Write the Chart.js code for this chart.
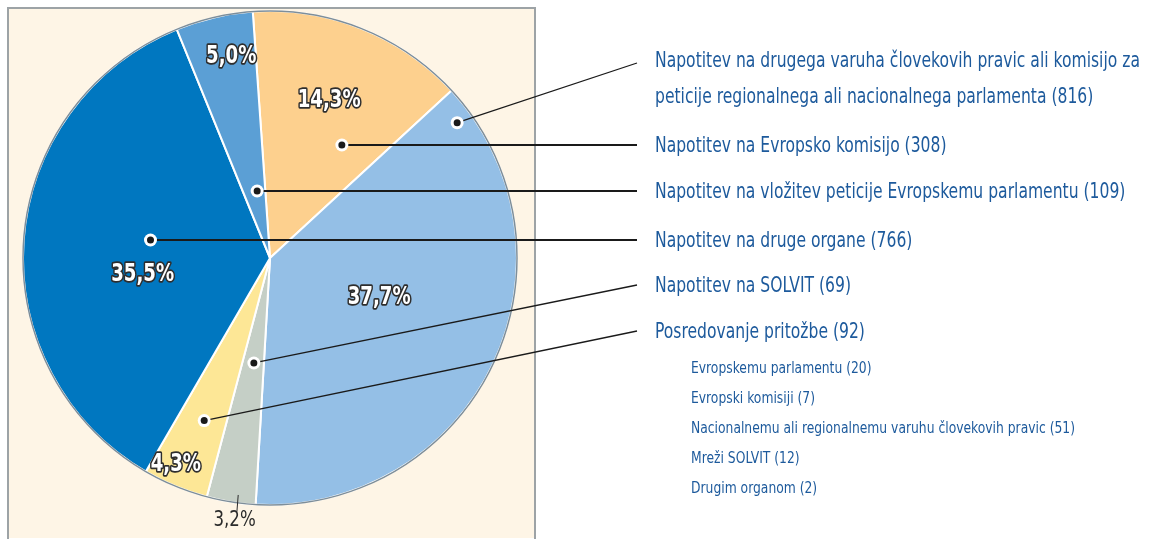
<!DOCTYPE html>
<html lang="sl">
<head>
  <meta charset="UTF-8">
  <title>Napotitve pritožb</title>
  <script src="https://cdn.jsdelivr.net/npm/chart.js"></script>
  <style>
    body { margin: 0; background: #ffffff; }
    #wrap { width: 1167px; height: 539px; position: relative; }
  </style>
</head>
<body>
  <div id="wrap"><canvas id="pie"></canvas></div>

  <script>
    // slices, clockwise from the top
    const categories = [
      "Napotitev na Evropsko komisijo",
      "Napotitev na drugega varuha človekovih pravic ali komisijo za peticije regionalnega ali nacionalnega parlamenta",
      "Napotitev na SOLVIT",
      "Posredovanje pritožbe",
      "Napotitev na druge organe",
      "Napotitev na vložitev peticije Evropskemu parlamentu"
    ];
    const counts = [308, 816, 69, 92, 766, 109];
    const shares = ["14,3%", "37,7%", "3,2%", "4,3%", "35,5%", "5,0%"];
    const colors = ["#fdd08e", "#94bfe6", "#c5cfc6", "#fde796", "#0077c0", "#5b9fd5"];

    // legend text on the right (index into the slices above)
    const legendOrder = [1, 0, 5, 4, 2, 3];
    const legendLines = [
      ["Napotitev na drugega varuha človekovih pravic ali komisijo za", "peticije regionalnega ali nacionalnega parlamenta (816)"],
      ["Napotitev na Evropsko komisijo (308)"],
      ["Napotitev na vložitev peticije Evropskemu parlamentu (109)"],
      ["Napotitev na druge organe (766)"],
      ["Napotitev na SOLVIT (69)"],
      ["Posredovanje pritožbe (92)"]
    ];
    const legendY = [61, 146, 192, 241, 286, 332];
    const subItems = [
      "Evropskemu parlamentu (20)",
      "Evropski komisiji (7)",
      "Nacionalnemu ali regionalnemu varuhu človekovih pravic (51)",
      "Mreži SOLVIT (12)",
      "Drugim organom (2)"
    ];

    // where labels and leader dots sit inside each slice: [angle fraction, radius fraction]
    const labelPos = [[0.48, 0.68], [0.46, 0.47], [0.38, 1.07], [0.63, 0.92], [0.41, 0.52], [0.62, 0.83]];
    const dotPos   = [[0.70, 0.55], [0.05, 0.935], [0.47, 0.43], [0.47, 0.71], [0.54, 0.49], [0.62, 0.275]];

    const FONT = '"DejaVu Sans Condensed", "Liberation Sans", Arial, sans-serif';
    const TEXT_BLUE = "#1d5a9c";

    function at(arc, f, rf) {
      const a = arc.startAngle + f * (arc.endAngle - arc.startAngle);
      return { x: arc.x + Math.cos(a) * arc.outerRadius * rf, y: arc.y + Math.sin(a) * arc.outerRadius * rf };
    }

    // draw text squeezed horizontally (the original face is a condensed one)
    function squeezed(ctx, t, x, y, sx, outline) {
      ctx.save();
      ctx.translate(x, y);
      ctx.scale(sx, 1);
      if (outline) ctx.strokeText(t, 0, 0);
      ctx.fillText(t, 0, 0);
      ctx.restore();
    }

    const decor = {
      id: "decor",
      beforeDraw(chart) {
        const ctx = chart.ctx;
        ctx.save();
        ctx.fillStyle = "#fef5e6";
        ctx.fillRect(8, 8, 527, 530);
        ctx.strokeStyle = "#9da3a6";
        ctx.lineWidth = 2;
        ctx.strokeRect(8, 8, 527, 532);
        ctx.restore();
      },
      afterDatasetsDraw(chart) {
        const ctx = chart.ctx;
        const arcs = chart.getDatasetMeta(0).data;
        const a0 = arcs[0];
        ctx.save();
        ctx.strokeStyle = "#7e8e99";
        ctx.lineWidth = 1.5;
        ctx.beginPath();
        ctx.arc(a0.x, a0.y, a0.outerRadius, 0, Math.PI * 2);
        ctx.stroke();

        // leader lines and dots
        legendOrder.forEach((idx, i) => {
          const p = at(arcs[idx], dotPos[idx][0], dotPos[idx][1]);
          const flat = i >= 1 && i <= 3;
          const py = flat ? legendY[i] - 1 : p.y;
          const endY = i === 0 ? legendY[0] + 2 : legendY[i] - 1;
          ctx.strokeStyle = "#1a1a1a";
          ctx.lineWidth = flat ? 2 : 1.3;
          ctx.beginPath();
          ctx.moveTo(p.x, py);
          ctx.lineTo(637, endY);
          ctx.stroke();
          ctx.fillStyle = "#ffffff";
          ctx.beginPath();
          ctx.arc(p.x, py, 6.5, 0, Math.PI * 2);
          ctx.fill();
          ctx.fillStyle = "#1a1a1a";
          ctx.beginPath();
          ctx.arc(p.x, py, 3.5, 0, Math.PI * 2);
          ctx.fill();
        });

        // percentage labels
        ctx.textAlign = "center";
        ctx.textBaseline = "middle";
        arcs.forEach((arc, idx) => {
          const p = at(arc, labelPos[idx][0], labelPos[idx][1]);
          if (idx === 2) {
            ctx.font = "22px " + FONT;
            ctx.fillStyle = "#2b2b2b";
            squeezed(ctx, shares[idx], p.x, p.y, 0.84, false);
            const t1 = at(arc, 0.38, 0.96), t2 = at(arc, 0.38, 1.0);
            ctx.strokeStyle = "#2b2b2b";
            ctx.lineWidth = 1;
            ctx.beginPath();
            ctx.moveTo(t1.x, t1.y + 2);
            ctx.lineTo(t2.x, t2.y + 9);
            ctx.stroke();
          } else {
            ctx.font = "bold 24px " + FONT;
            ctx.lineJoin = "round";
            ctx.lineWidth = 3.5;
            ctx.strokeStyle = "#2e2e2e";
            ctx.fillStyle = "#ffffff";
            squeezed(ctx, shares[idx], p.x, p.y, 0.84, true);
          }
        });

        // legend text
        ctx.textAlign = "left";
        ctx.fillStyle = TEXT_BLUE;
        ctx.font = "22px " + FONT;
        const sxMain = 485 / ctx.measureText(legendLines[0][0]).width;
        legendLines.forEach((lines, i) => {
          lines.forEach((t, j) => squeezed(ctx, t, 655, legendY[i] + j * 36, sxMain, false));
        });
        ctx.font = "16px " + FONT;
        const sxSub = 384 / ctx.measureText(subItems[2]).width;
        subItems.forEach((t, j) => squeezed(ctx, t, 691, 369 + j * 30, sxSub, false));
        ctx.restore();
      }
    };

    new Chart(document.getElementById("pie"), {
      type: "pie",
      data: {
        labels: categories,
        datasets: [{
          data: counts,
          backgroundColor: colors,
          borderColor: "#ffffff",
          borderWidth: 2
        }]
      },
      options: {
        responsive: true,
        maintainAspectRatio: false,
        animation: false,
        rotation: -4,
        layout: { padding: { left: 22, top: 10, right: 649, bottom: 33 } },
        plugins: { legend: { display: false }, tooltip: { enabled: false } }
      },
      plugins: [decor]
    });
  </script>
</body>
</html>
